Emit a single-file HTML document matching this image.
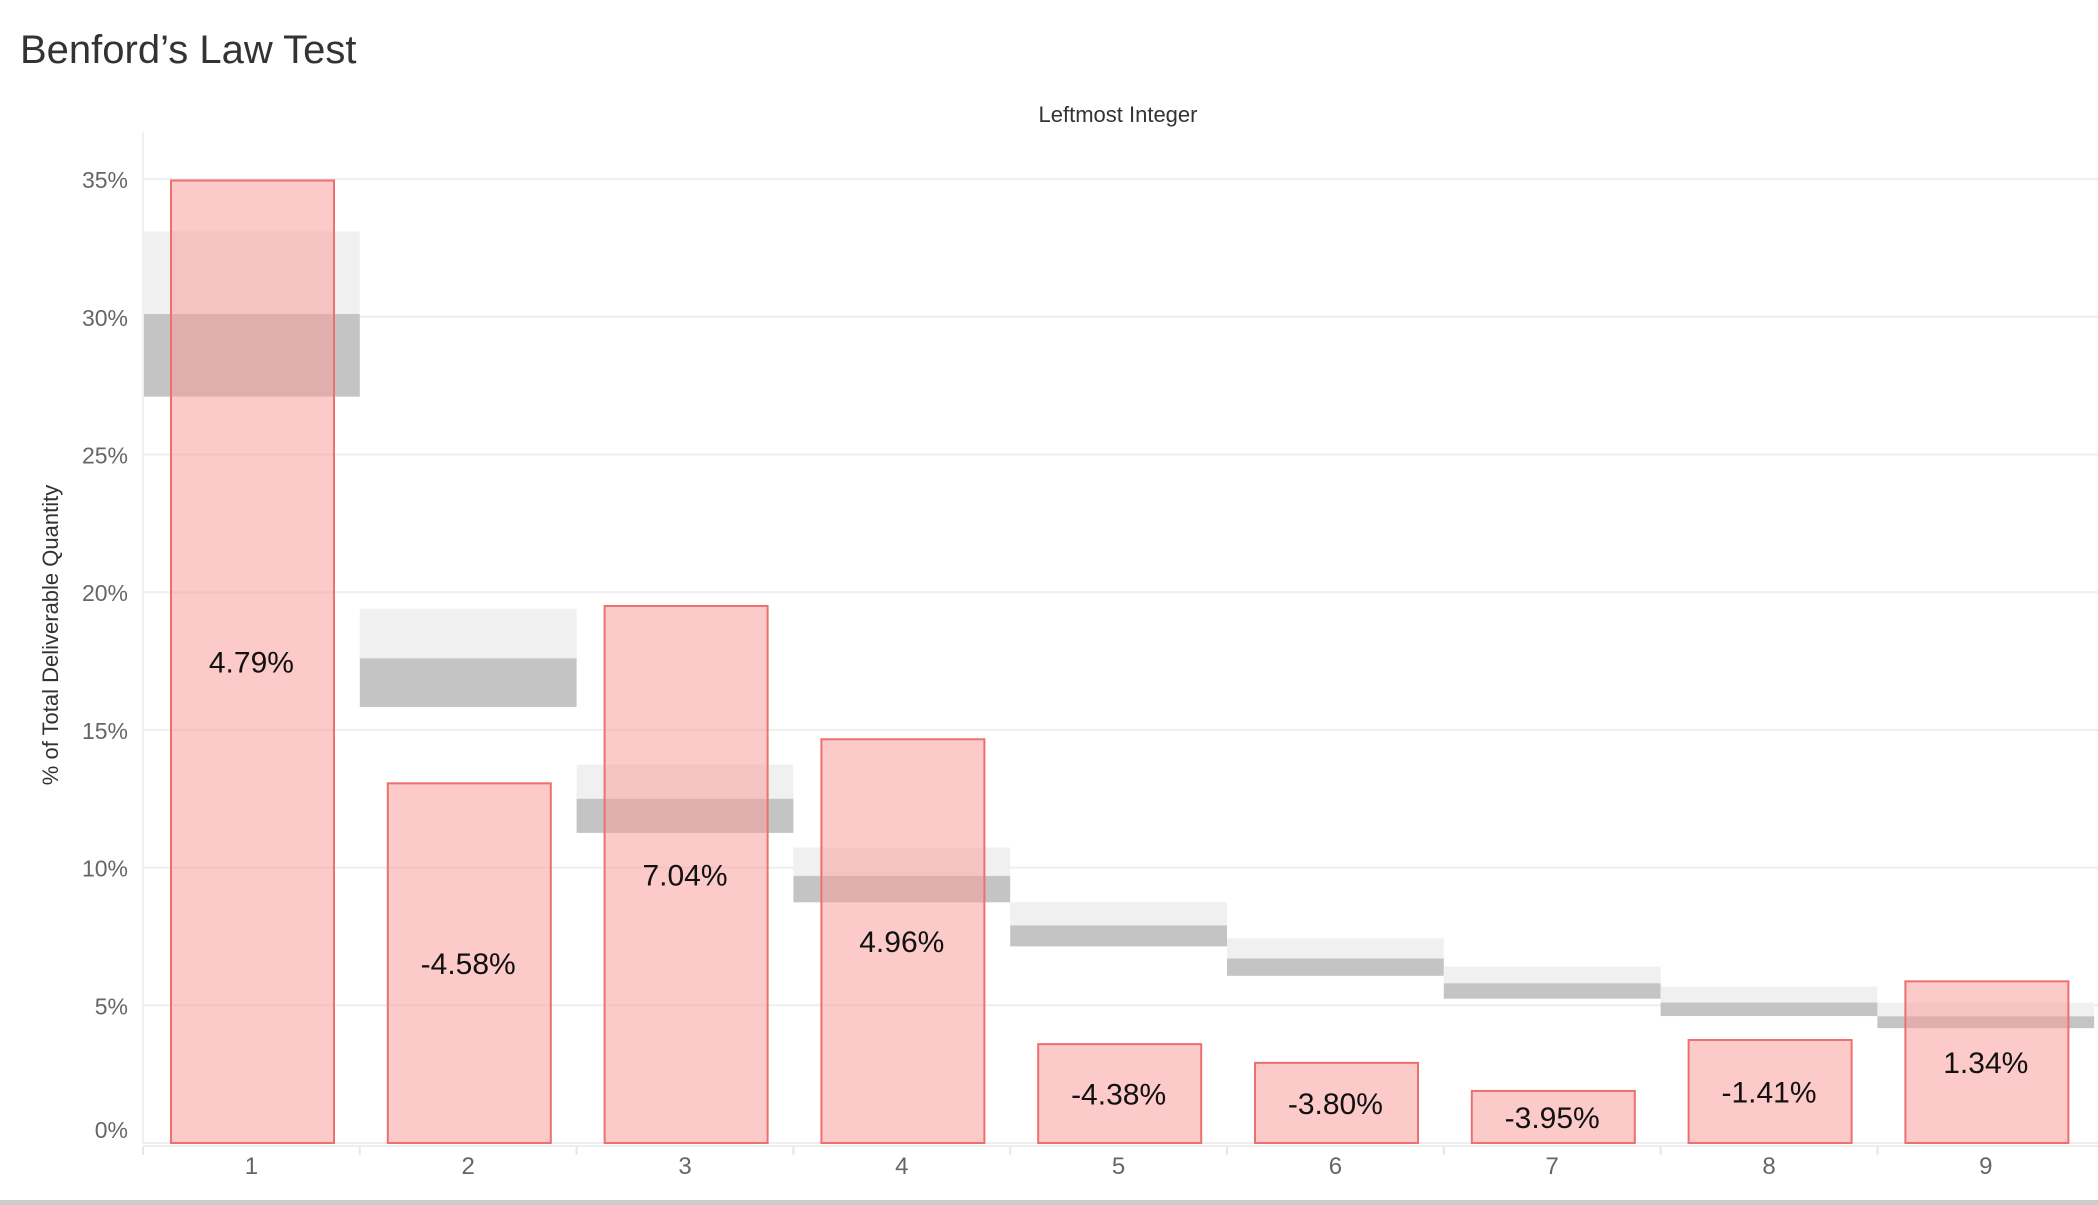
<!DOCTYPE html>
<html><head><meta charset="utf-8">
<style>
html,body{margin:0;padding:0;background:#fff;width:2098px;height:1205px;overflow:hidden;font-family:"Liberation Sans",sans-serif;}
svg{display:block}
</style></head>
<body>
<svg id="chart" width="2098" height="1205">
<text x="20" y="63" font-size="40" fill="#333">Benford’s Law Test</text>
<text x="1118" y="122" font-size="22" fill="#333" text-anchor="middle">Leftmost Integer</text>
<text transform="translate(58,635) rotate(-90)" font-size="22" fill="#333" text-anchor="middle">% of Total Deliverable Quantity</text>
<g id="grid"></g><g id="bands"></g><g id="bars"></g><g id="labels"></g><g id="axes"></g>
<rect x="0" y="1200" width="2098" height="5" fill="#ccc"></rect>
</svg>
<script>
const categories = ["1","2","3","4","5","6","7","8","9"];
const actual = [34.95, 13.06, 19.5, 14.66, 3.59, 2.91, 1.89, 3.74, 5.87];
const expected = [30.1, 17.6, 12.5, 9.7, 7.9, 6.7, 5.8, 5.1, 4.6];
const upper = [33.1, 19.4, 13.74, 10.73, 8.74, 7.43, 6.41, 5.68, 5.1];
const lower = [27.1, 15.83, 11.26, 8.74, 7.14, 6.07, 5.24, 4.61, 4.17];
const diffLabels = ["4.79%","-4.58%","7.04%","4.96%","-4.38%","-3.80%","-3.95%","-1.41%","1.34%"];
const yTicks = [0,5,10,15,20,25,30,35];

const NS="http://www.w3.org/2000/svg";
const plotL=143, colW=216.8, y0=1143, pxPer=27.54;
const y=v=>y0-v*pxPer;
const xCol=i=>plotL+i*colW;
function mk(tag,attrs,parent,txt){const e=document.createElementNS(NS,tag);for(const k in attrs)e.setAttribute(k,attrs[k]);if(txt!==undefined)e.textContent=txt;document.getElementById(parent).appendChild(e);return e;}

yTicks.forEach(t=>{
  const g=mk('line',{x1:plotL,x2:2098,y1:y(t),y2:y(t),stroke:'#eeeeee','stroke-width':2},'grid');
  
  
  const l=mk('text',{x:128,y:y(t)+9 - (t===0?14:0),'font-size':23,fill:'#666','text-anchor':'end'},'grid',t+'%');
  
  
});
const ax=mk('line',{x1:plotL,x2:plotL,y1:132,y2:y0,stroke:'#f0f0f0','stroke-width':2},'axes');


const bx=mk('line',{x1:plotL,x2:2098,y1:y0+3,y2:y0+3,stroke:'#eee','stroke-width':2},'axes');



categories.forEach((c,i)=>{
  const x=xCol(i);
  const lb=mk('rect',{x:x,y:y(upper[i]),width:colW,height:y(expected[i])-y(upper[i]),fill:'#f0f0f0'},'bands');
  
  
  const db=mk('rect',{x:x,y:y(expected[i]),width:colW,height:y(lower[i])-y(expected[i]),fill:'#c4c4c4'},'bands');
  
  
  const b=mk('rect',{x:x+28,y:y(actual[i]),width:163,height:y0-y(actual[i]),fill:'rgba(251,154,154,0.53)',stroke:'#ec7070','stroke-width':2},'bars');
  
  
  const t=mk('text',{x:x+colW/2,y:(y(actual[i])+y0)/2+11,'font-size':30,fill:'#111','text-anchor':'middle'},'labels',diffLabels[i]);
  
  
  const xl=mk('text',{x:x+colW/2,y:1174,'font-size':24,fill:'#666','text-anchor':'middle'},'axes',c);
  
  
  const tk=mk('line',{x1:x,x2:x,y1:y0+4,y2:y0+12,stroke:'#e6e6e6','stroke-width':2},'axes');
  
  
});
</script>
</body></html>
